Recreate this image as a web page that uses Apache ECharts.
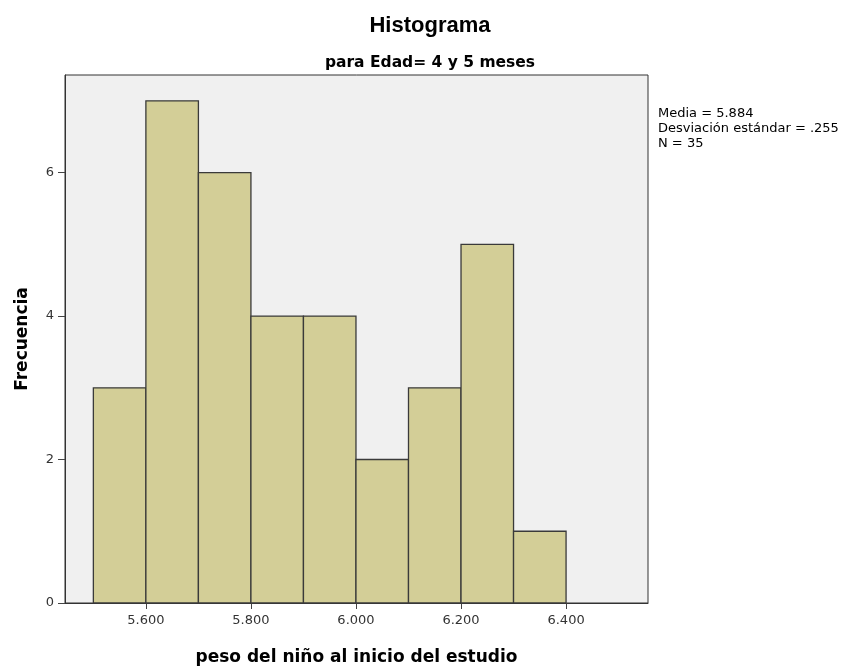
<!DOCTYPE html>
<html>
<head>
<meta charset="utf-8">
<script src="https://cdn.jsdelivr.net/npm/echarts@6/dist/echarts.min.js"></script>
<style>
html, body { margin: 0; padding: 0; background: #fff; }
#chart { width: 849px; height: 671px; }
</style>
</head>
<body>
<div id="chart"></div>
<script>
// bins del histograma (inicio de cada intervalo, ancho 0.1)
var binStarts = [5.5, 5.6, 5.7, 5.8, 5.9, 6.0, 6.1, 6.2, 6.3];
var binWidth = 0.1;
var counts = [3, 7, 6, 4, 4, 2, 3, 5, 1];
var xTicks = [5.6, 5.8, 6.0, 6.2, 6.4];
var yTicks = [0, 2, 4, 6];
var statsLines = ['Media = 5.884', 'Desviación estándar = .255', 'N = 35'];

var sans = '"Liberation Sans", Arial, sans-serif';
var wide = '"DejaVu Sans", Verdana, sans-serif';

var chart = echarts.init(document.getElementById('chart'));

var data = binStarts.map(function (s, i) { return [s, s + binWidth, counts[i]]; });

var option = {
	backgroundColor: '#ffffff',
	animation: false,
	title: [
		{
			text: 'Histograma',
			left: 425, top: 10, textAlign: 'center',
			textStyle: { fontFamily: sans, fontSize: 22, fontWeight: 'bold', color: '#000' }
		},
		{
			text: 'para Edad= 4 y 5 meses',
			left: 425, top: 50, textAlign: 'center',
			textStyle: { fontFamily: wide, fontSize: 15.5, fontWeight: 'bold', color: '#000' }
		}
	],
	grid: {
		left: 65, top: 75, right: 201, bottom: 66,
		show: true,
		backgroundColor: '#f0f0f0',
		borderColor: '#333',
		borderWidth: 1
	},
	xAxis: {
		type: 'value',
		min: 5.446, max: 6.556,
		splitLine: { show: false },
		axisLine: { show: true, onZero: false, lineStyle: { color: '#333' } },
		axisTick: { show: true, length: 6, customValues: xTicks, lineStyle: { color: '#444' } },
		axisLabel: {
			customValues: xTicks,
			formatter: function (v) { return v.toFixed(3); },
			fontFamily: wide, fontSize: 13, color: '#333', margin: 11
		},
		name: 'peso del niño al inicio del estudio',
		nameLocation: 'middle',
		nameGap: 46,
		nameTextStyle: { fontFamily: wide, fontSize: 17, fontWeight: 'bold', color: '#000' }
	},
	yAxis: {
		type: 'value',
		min: 0, max: 7.36,
		splitLine: { show: false },
		axisLine: { show: true, lineStyle: { color: '#333' } },
		axisTick: { show: true, length: 7, customValues: yTicks, lineStyle: { color: '#444' } },
		axisLabel: {
			customValues: yTicks,
			fontFamily: wide, fontSize: 13, color: '#333', margin: 11
		},
		name: 'Frecuencia',
		nameLocation: 'middle',
		nameGap: 34,
		nameTextStyle: { fontFamily: wide, fontSize: 17, fontWeight: 'bold', color: '#000' }
	},
	series: [{
		type: 'custom',
		data: data,
		encode: { x: [0, 1], y: 2 },
		renderItem: function (params, api) {
			var p0 = api.coord([api.value(0), 0]);
			var p1 = api.coord([api.value(1), api.value(2)]);
			return {
				type: 'rect',
				shape: { x: p0[0], y: p1[1], width: p1[0] - p0[0], height: p0[1] - p1[1] },
				style: { fill: '#d3ce97', stroke: '#3a3a3a', lineWidth: 1.3 }
			};
		}
	}],
	graphic: [{
		type: 'text',
		left: 658, top: 106,
		style: {
			text: statsLines.join('\n'),
			font: '13px "DejaVu Sans", Verdana, sans-serif',
			lineHeight: 15,
			fill: '#000'
		}
	}]
};

chart.setOption(option);
</script>
</body>
</html>
